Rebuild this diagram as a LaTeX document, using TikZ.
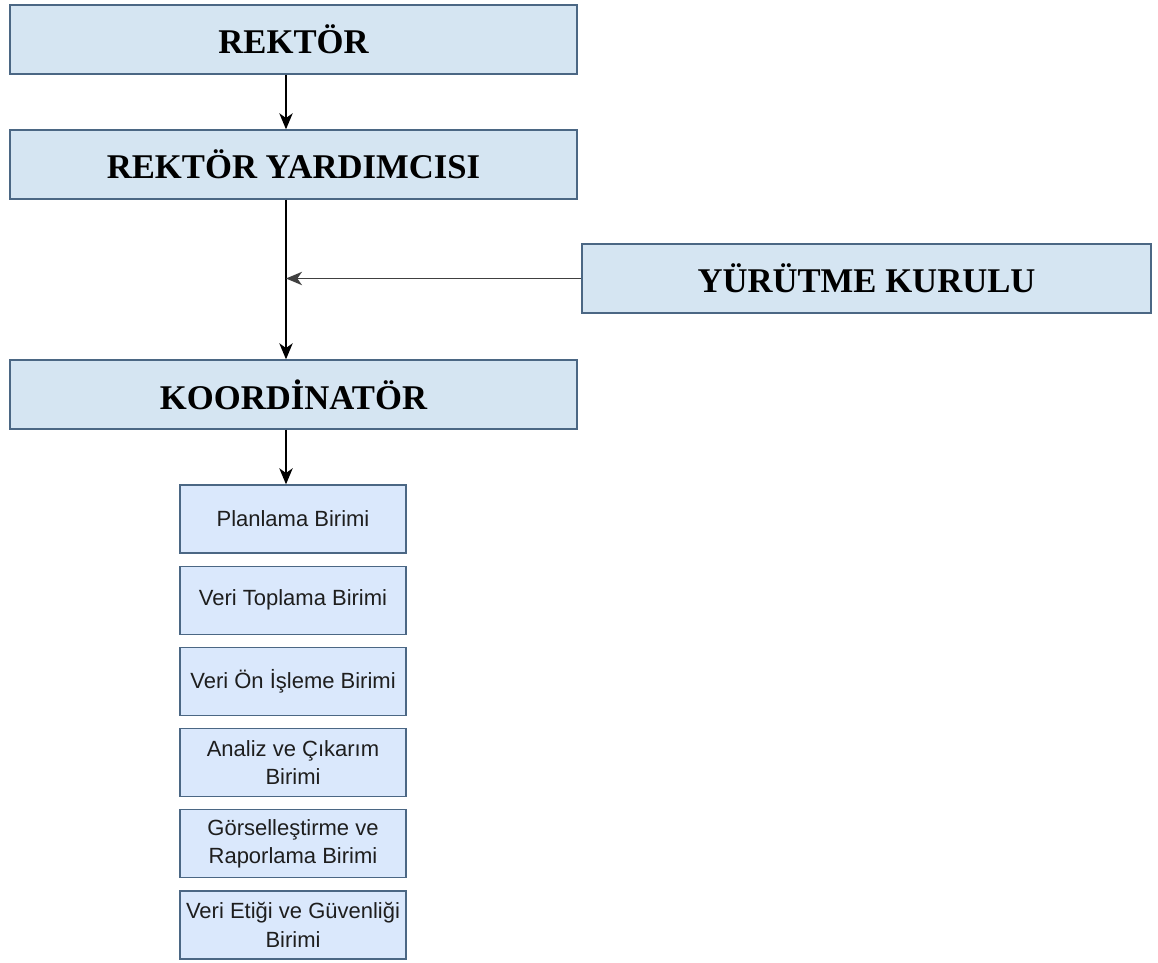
\documentclass[tikz,border=0pt]{standalone}
\usepackage{fontspec}
\setmainfont{Liberation Serif}
\setsansfont{Liberation Sans}
\usetikzlibrary{arrows.meta}
\definecolor{headBlue}{RGB}{213,229,242}
\definecolor{unitBlue}{RGB}{218,232,252}
\definecolor{boxEdge}{RGB}{75,103,132}
\definecolor{unitText}{RGB}{30,30,30}

\begin{document}
\begin{tikzpicture}[%
    x=0.75pt, y=-0.75pt,
    every node/.style={inner sep=0pt},
    headbox/.style={
        draw=boxEdge, line width=1pt, fill=headBlue,
        minimum width=425.25pt, minimum height=51.75pt,
        font=\fontsize{26}{31}\selectfont\bfseries,
    },
    unitbox/.style={
        draw=boxEdge, line width=1pt, fill=unitBlue,
        minimum width=169.5pt, minimum height=51pt,
        align=center, text=unitText,
        font=\sffamily\fontsize{16.5}{21.5}\selectfont,
    },
    link/.style={-{Stealth[length=12pt,width=10pt,inset=3.5pt]}, line width=1.3pt},
]
\useasboundingbox (0,0) rectangle (1158,963);

% main chain
\node[headbox] (rek) at (293.5,39.5) {REKTÖR};
\node[headbox] (rekyrd) at (293.5,164.5) {REKTÖR YARDIMCISI};
\node[headbox, minimum width=426.75pt] (ykurul) at (866.5,278.5) {YÜRÜTME KURULU};
\node[headbox] (koord) at (293.5,394.5) {KOORDİNATÖR};

% units below the coordinator
\foreach \txt [count=\i from 0] in {%
    Planlama Birimi,
    Veri Toplama Birimi,
    Veri Ön İşleme Birimi,
    Analiz ve Çıkarım\\Birimi,
    Görselleştirme ve\\Raporlama Birimi,
    Veri Etiği ve Güvenliği\\Birimi}{
    \node[unitbox] (unit\i) at (293,{519+81.2*\i}) {\txt};
}

% arrows
\coordinate (axis) at (286,0);
\draw[link] (rek.south -| axis) -- (rekyrd.north -| axis);
\draw[link] (rekyrd.south -| axis) -- (koord.north -| axis);
\draw[link, black!75] (ykurul.west) -- (ykurul.west -| axis);
\draw[link] (koord.south -| axis) -- (unit0.north -| axis);

\end{tikzpicture}
\end{document}
